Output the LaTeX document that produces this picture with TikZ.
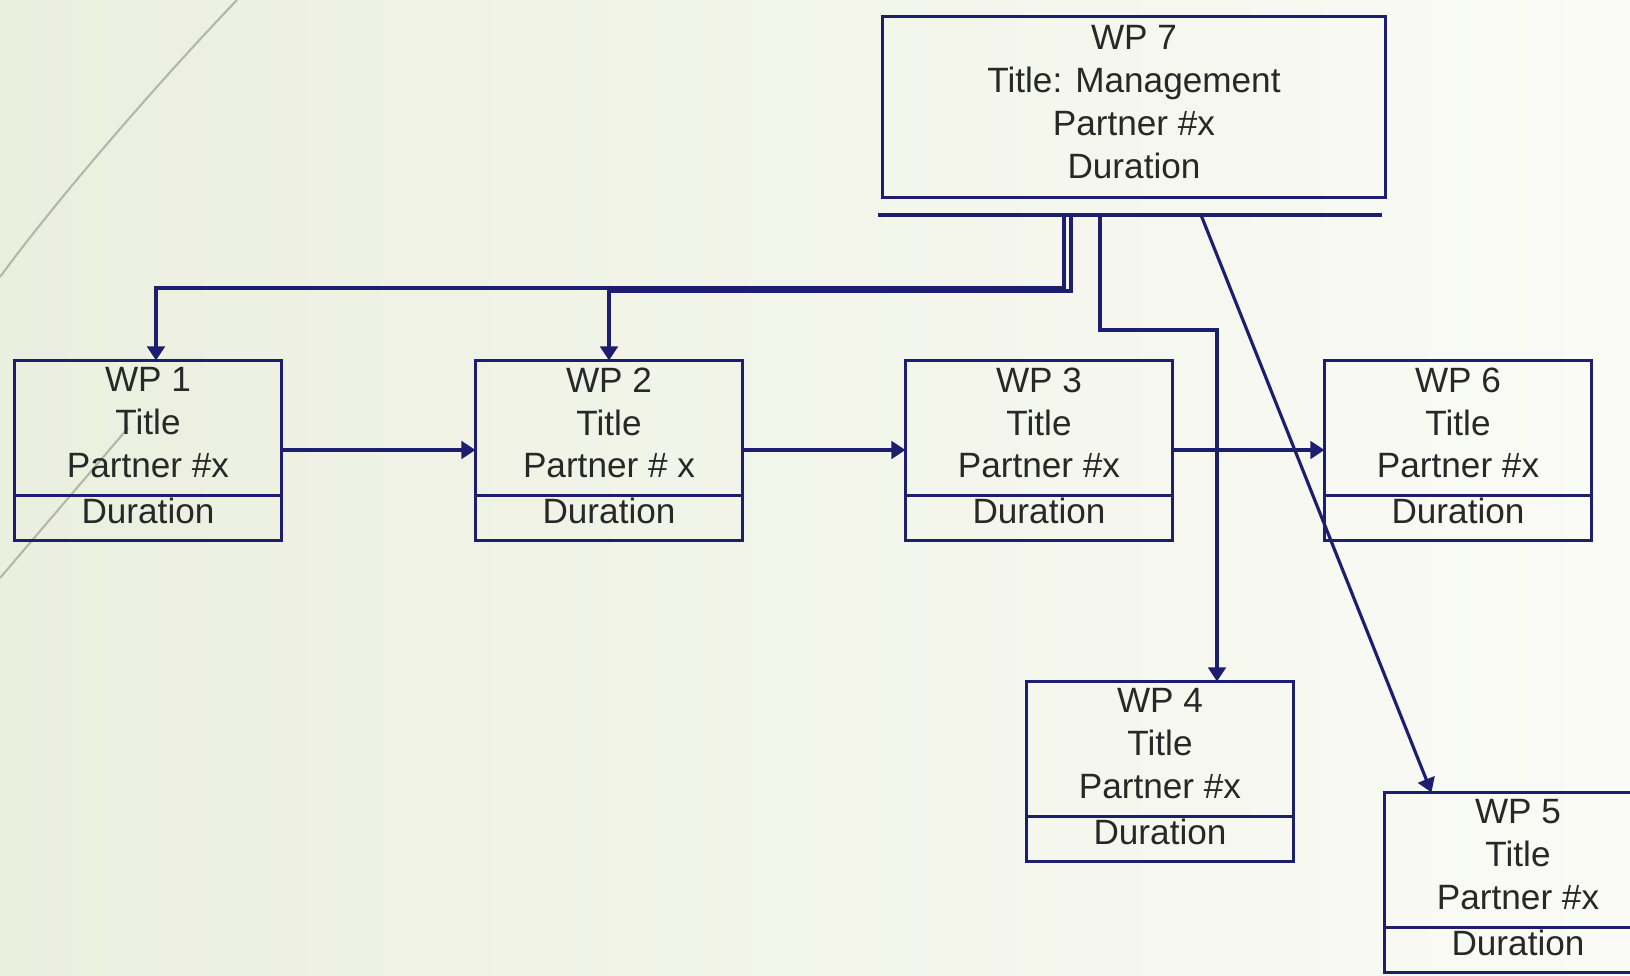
\documentclass[tikz,border=0pt]{standalone}
\usepackage{fontspec}
\setmainfont{Liberation Sans}
\usetikzlibrary{arrows.meta,calc,positioning}
\definecolor{wpnavy}{RGB}{30,30,112}
\definecolor{wptext}{RGB}{40,40,40}
\definecolor{sageleft}{RGB}{235,239,222}
\definecolor{sageright}{RGB}{250,251,246}
\definecolor{wispgrey}{RGB}{180,184,168}
\tikzset{
  wpbox/.style={
    draw=wpnavy,
    line width=1pt,
    outer sep=0pt,
    inner sep=0pt,
    align=center,
    minimum width=2.67cm,
    minimum height=1.35cm,
    text depth=3pt,
    text=wptext,
    font=\fontsize{10}{12.2}\selectfont
  },
  durbox/.style={
    wpbox,
    minimum height=.45cm,
    text depth=4pt
  },
  mgmtbox/.style={
    wpbox,
    minimum width=5.03cm,
    minimum height=1.81cm
  },
  arrow/.style={
    -{Triangle[length=4pt,width=5pt]},
    line width=.9pt,
    wpnavy
  },
  wisp/.style={
    draw=wispgrey,
    line width=.6pt
  }
}

\begin{document}
\begin{tikzpicture}[x=0.01cm,y=-0.01cm]
\useasboundingbox (0,0) rectangle (1630,976);
\clip (0,0) rectangle (1630,976);
\shade[left color=sageleft,right color=sageright] (0,0) rectangle (1630,976);
% background wisps
\draw[wisp] (237,0) .. controls (165,75) and (60,195) .. (0,277);
\draw[wisp] (128,428) -- (0,578);

% work packages
\node[mgmtbox] (wp7) at (1134,107) {WP 7\\Title: Management\\Partner \#x\\Duration};
\node[wpbox] (wp1) at (148,428) {WP 1\\Title\\Partner \#x};
\node[wpbox] (wp2) at (609,428) {WP 2\\Title\\Partner \# x};
\node[wpbox] (wp3) at (1039,428) {WP 3\\Title\\Partner \#x};
\node[wpbox] (wp6) at (1458,428) {WP 6\\Title\\Partner \#x};
\node[wpbox] (wp4) at (1160,749) {WP 4\\Title\\Partner \#x};
\node[wpbox] (wp5) at (1518,860) {WP 5\\Title\\Partner \#x};
\node[durbox,below=0pt of wp1] (wp1d) {Duration};
\node[durbox,below=0pt of wp2] (wp2d) {Duration};
\node[durbox,below=0pt of wp3] (wp3d) {Duration};
\node[durbox,below=0pt of wp6] (wp6d) {Duration};
\node[durbox,below=0pt of wp4] (wp4d) {Duration};
\node[durbox,below=0pt of wp5] (wp5d) {Duration};

% bar under WP 7
\coordinate (barL) at (878,215);
\coordinate (barR) at (1382,215);
\draw[wpnavy,line width=1pt] (barL) -- (barR);
\coordinate (b1) at (1064,215);
\coordinate (b2) at (1071,215);
\coordinate (b3) at (1100,215);
\coordinate (b4) at (1201,215);

% links
\draw[arrow] (b1) -- ++(0,73) -| ($(wp1.north)+(8,0)$);
\draw[arrow] (b2) -- ++(0,76) -| (wp2.north);
\draw[arrow] (b3) -- ++(0,115) -| ($(wp4.north)+(57,0)$);
\draw[arrow] (b4) -- ($(wp5.north west)+(47,0)$);
\draw[arrow] ($(wp1.east)+(0,22)$) -- ($(wp2.west)+(0,22)$);
\draw[arrow] ($(wp2.east)+(0,22)$) -- ($(wp3.west)+(0,22)$);
\draw[arrow] ($(wp3.east)+(0,22)$) -- ($(wp6.west)+(0,22)$);
\end{tikzpicture}
\end{document}
